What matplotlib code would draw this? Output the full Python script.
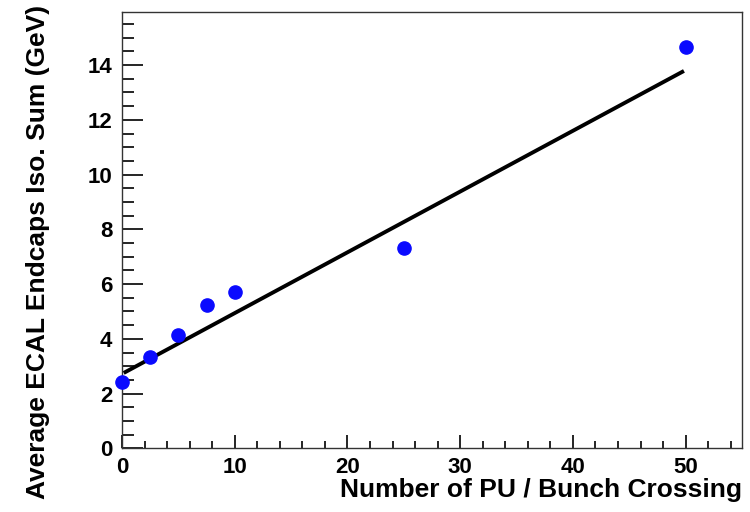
import matplotlib
matplotlib.use("Agg")
import matplotlib.pyplot as plt
import numpy as np
from matplotlib.ticker import MultipleLocator

# Data
pileup = [0, 2.5, 5, 7.5, 10, 25, 50]
iso_sum = [2.42, 3.34, 4.14, 5.24, 5.71, 7.32, 14.67]
# linear fit parameters
fit_intercept = 2.72
fit_slope = 0.222
fit_range = [0.3, 49.7]

plt.rcParams['font.family'] = ['Liberation Sans', 'DejaVu Sans']
plt.rcParams['font.weight'] = 'bold'

fig = plt.figure(figsize=(7.5, 5.12), dpi=100)
ax = fig.add_axes([0.1627, 0.1244, 0.9893 - 0.1627, 0.976 - 0.1244])

xf = np.linspace(fit_range[0], fit_range[1], 50)
ax.plot(xf, fit_intercept + fit_slope * xf, color='black', lw=2.8, zorder=2)
ax.plot(pileup, iso_sum, 'o', color='#0a0aff', ms=9.5, mec='#0a0aff', zorder=3, clip_on=False)

ax.set_xlim(0, 55)
ax.set_ylim(0, 15.93)
ax.xaxis.set_major_locator(MultipleLocator(10))
ax.xaxis.set_minor_locator(MultipleLocator(2))
ax.yaxis.set_major_locator(MultipleLocator(2))
ax.yaxis.set_minor_locator(MultipleLocator(0.5))

ax.tick_params(axis='both', which='both', direction='in', top=False, right=False,
               labelsize=16, width=1.2, color='black')
ax.tick_params(axis='x', which='major', length=9.5, pad=6)
ax.tick_params(axis='x', which='minor', length=5)
ax.tick_params(axis='y', which='major', length=15, pad=7)
ax.tick_params(axis='y', which='minor', length=8.5)
for lab in ax.get_xticklabels() + ax.get_yticklabels():
    lab.set_fontweight('bold')

for s in ax.spines.values():
    s.set_linewidth(1.0)
    s.set_color('#333333')

ax.set_xlabel('Number of PU / Bunch Crossing', fontsize=19, fontweight='bold', loc='right', labelpad=0)
ax.set_ylabel('Average ECAL Endcaps Iso. Sum (GeV)', fontsize=19, fontweight='bold', loc='top', labelpad=27)
ax.yaxis.label.set_y(1.016)

fig.savefig('out.png', dpi=100)
